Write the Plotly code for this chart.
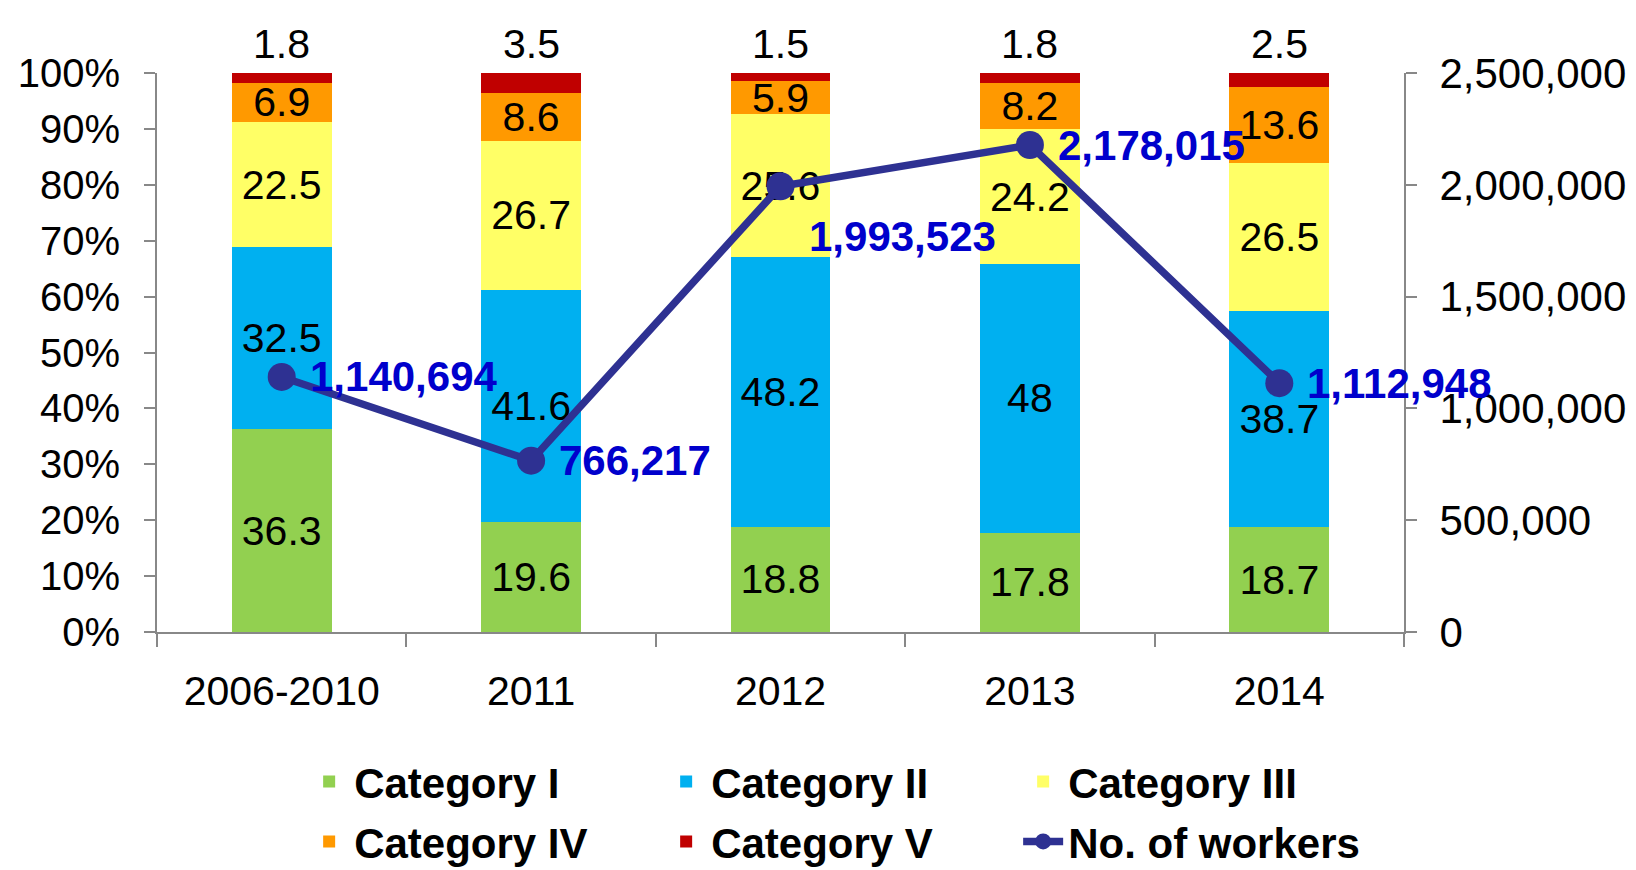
import plotly.graph_objects as go

categories = ["2006-2010", "2011", "2012", "2013", "2014"]
cat_i = [36.3, 19.6, 18.8, 17.8, 18.7]
cat_ii = [32.5, 41.6, 48.2, 48, 38.7]
cat_iii = [22.5, 26.7, 25.6, 24.2, 26.5]
cat_iv = [6.9, 8.6, 5.9, 8.2, 13.6]
cat_v = [1.8, 3.5, 1.5, 1.8, 2.5]
workers = [1140694, 766217, 1993523, 2178015, 1112948]

series = [
    ("Category I", cat_i, "#92D050", "legend"),
    ("Category II", cat_ii, "#00B0F0", "legend"),
    ("Category III", cat_iii, "#FFFF66", "legend"),
    ("Category IV", cat_iv, "#FF9900", "legend2"),
    ("Category V", cat_v, "#C00000", "legend2"),
]

FONT = "Liberation Sans, Arial, sans-serif"
fig = go.Figure()
for name, vals, col, leg in series:
    show_text = name != "Category V"
    fig.add_trace(go.Bar(
        x=categories, y=vals, name=name, legend=leg,
        marker=dict(color=col, line=dict(width=0)),
        text=[f"{v:g}" for v in vals] if show_text else None,
        textposition="inside" if show_text else "none",
        insidetextanchor="middle",
        constraintext="none",
        textangle=0,
        textfont=dict(family=FONT, size=41, color="black"),
        width=0.4,
    ))

fig.add_trace(go.Scatter(
    x=categories, y=workers, name="No. of workers", yaxis="y2", legend="legend2",
    mode="lines+markers",
    line=dict(color="#2E3192", width=7.5),
    marker=dict(color="#2E3192", size=28),
))

# Category V labels above bars
for i, v in enumerate(cat_v):
    fig.add_annotation(x=i, y=100, xref="x", yref="y", text=f"{v:g}", showarrow=False,
                       yanchor="middle", yshift=29,
                       font=dict(family=FONT, size=41, color="black"))

# Worker labels
offsets = [(0, 0), (0, 0), (0, -50), (0, 0), (0, 0)]
for i, (w, (dx, dy)) in enumerate(zip(workers, offsets)):
    fig.add_annotation(x=i, y=w, xref="x", yref="y2", text=f"<b>{w:,}</b>", showarrow=False,
                       xanchor="left", yanchor="middle", xshift=26 + dx, yshift=dy,
                       font=dict(family=FONT, size=42, color="#0000CC"))

axis_col = "#888888"
legend_common = dict(
    orientation="h", x=0.118, xanchor="left", yanchor="middle",
    font=dict(family=FONT, size=42, color="black", weight="bold"),
    entrywidth=302, entrywidthmode="pixels",
    traceorder="normal", itemwidth=40, bgcolor="rgba(0,0,0,0)",
)
fig.update_layout(
    width=1636, height=870,
    barmode="stack",
    plot_bgcolor="white", paper_bgcolor="white",
    margin=dict(l=149, r=240, t=65, b=246, autoexpand=False),
    font=dict(family=FONT, size=41, color="black"),
    showlegend=True,
    legend=dict(y=-0.268, **legend_common),
    legend2=dict(y=-0.375, **legend_common),
    xaxis=dict(
        type="category",
        showline=True, linecolor=axis_col, linewidth=2,
        ticks="outside", tickson="boundaries", ticklen=13, tickcolor=axis_col, tickwidth=2,
        tickfont=dict(size=41), ticklabelstandoff=22,
        range=[-0.5, 4.5],
    ),
    yaxis=dict(
        range=[0, 100], dtick=10, ticksuffix="%",
        showline=True, linecolor=axis_col, linewidth=2,
        ticks="outside", ticklen=11, tickcolor=axis_col, tickwidth=2,
        showgrid=False, zeroline=False, tickfont=dict(size=40), ticklabelstandoff=16,
    ),
    yaxis2=dict(
        range=[0, 2500000], dtick=500000, tickformat=",",
        overlaying="y", side="right",
        showline=True, linecolor=axis_col, linewidth=2,
        ticks="outside", ticklen=11, tickcolor=axis_col, tickwidth=2,
        showgrid=False, zeroline=False, tickfont=dict(size=42), ticklabelstandoff=14,
    ),
)

fig.write_html("out.html")
